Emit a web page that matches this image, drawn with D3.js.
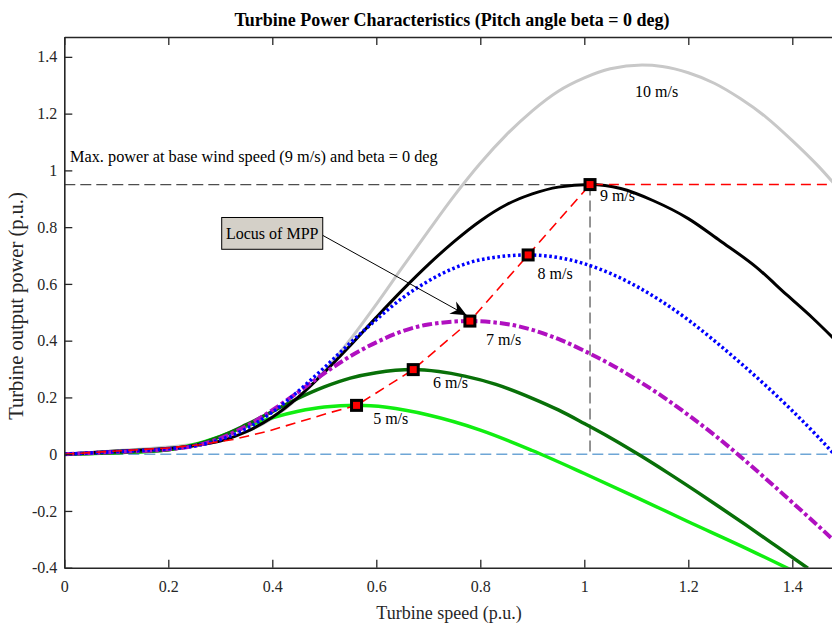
<!DOCTYPE html>
<html>
<head>
<meta charset="utf-8">
<script src="https://cdn.jsdelivr.net/npm/d3@7"></script>
<style>
  body { margin: 0; background: #fff; }
  text { font-family: "Liberation Serif", "Times New Roman", serif; }
</style>
</head>
<body>
<div id="chart"></div>
<script>

// turbine speed (p.u.) / output power (p.u.), one pair per wind speed
var speed_5 = [0, 0.1, 0.2, 0.25, 0.3, 0.35, 0.4, 0.45, 0.5, 0.562, 0.62, 0.7, 0.8, 0.9, 1.0, 1.1, 1.2, 1.3, 1.4];
var power_5 = [0, 0.005, 0.016, 0.034, 0.063, 0.098, 0.128, 0.151, 0.166, 0.172, 0.165, 0.138, 0.085, 0.013, -0.068, -0.152, -0.238, -0.322, -0.41];

var speed_6 = [0, 0.1, 0.2, 0.25, 0.3, 0.35, 0.4, 0.45, 0.5, 0.55, 0.6, 0.671, 0.72, 0.77, 0.83, 0.9, 0.95, 1.0, 1.05, 1.107, 1.16, 1.216, 1.26, 1.312, 1.37, 1.43];
var power_6 = [0, 0.006, 0.016, 0.032, 0.062, 0.104, 0.15, 0.197, 0.237, 0.268, 0.287, 0.298, 0.291, 0.275, 0.246, 0.197, 0.156, 0.108, 0.058, -0.004, -0.065, -0.132, -0.186, -0.251, -0.325, -0.402];

var speed_7 = [0, 0.1, 0.2, 0.25, 0.3, 0.35, 0.4, 0.45, 0.5, 0.55, 0.6, 0.65, 0.7, 0.78, 0.85, 0.9, 0.95, 1.0, 1.05, 1.1, 1.15, 1.2, 1.25, 1.3, 1.35, 1.4, 1.45, 1.5];
var power_7 = [0, 0.008, 0.017, 0.029, 0.056, 0.099, 0.155, 0.219, 0.285, 0.345, 0.394, 0.433, 0.457, 0.469, 0.459, 0.438, 0.406, 0.364, 0.317, 0.263, 0.204, 0.138, 0.068, -0.008, -0.088, -0.17, -0.253, -0.338];

var speed_8 = [0, 0.1, 0.2, 0.25, 0.3, 0.35, 0.4, 0.45, 0.5, 0.55, 0.6, 0.65, 0.7, 0.75, 0.8, 0.892, 0.95, 1.0, 1.05, 1.1, 1.15, 1.2, 1.25, 1.3, 1.35, 1.4, 1.45, 1.5];
var power_8 = [0, 0.009, 0.019, 0.029, 0.051, 0.09, 0.148, 0.222, 0.305, 0.392, 0.474, 0.55, 0.61, 0.656, 0.685, 0.702, 0.693, 0.671, 0.637, 0.592, 0.537, 0.473, 0.4, 0.322, 0.24, 0.153, 0.06, -0.04];

var speed_9 = [0, 0.1, 0.2, 0.25, 0.3, 0.35, 0.4, 0.45, 0.5, 0.55, 0.6, 0.65, 0.7, 0.75, 0.8, 0.85, 0.9, 0.95, 1.011, 1.07, 1.133, 1.2, 1.261, 1.33, 1.389, 1.44, 1.5];
var power_9 = [0, 0.011, 0.021, 0.03, 0.046, 0.079, 0.13, 0.201, 0.288, 0.383, 0.482, 0.578, 0.668, 0.75, 0.822, 0.879, 0.917, 0.941, 0.95, 0.936, 0.893, 0.83, 0.752, 0.66, 0.562, 0.478, 0.37];

var speed_10 = [0, 0.1, 0.2, 0.25, 0.3, 0.35, 0.4, 0.45, 0.5, 0.55, 0.6, 0.65, 0.7, 0.75, 0.8, 0.85, 0.9, 0.95, 1.0, 1.05, 1.111, 1.15, 1.2, 1.25, 1.3, 1.35, 1.4, 1.45, 1.5];
var power_10 = [0, 0.012, 0.025, 0.035, 0.05, 0.079, 0.127, 0.198, 0.292, 0.404, 0.528, 0.658, 0.786, 0.911, 1.025, 1.125, 1.21, 1.279, 1.326, 1.358, 1.371, 1.366, 1.344, 1.307, 1.253, 1.187, 1.105, 1.015, 0.912];

// locus of maximum power points
var locusSpeed = [0, 0.1, 0.2, 0.26, 0.325, 0.39, 0.45, 0.51, 0.562, 0.671, 0.78, 0.892, 1.011, 1.5];
var locusPower = [0, 0.011, 0.022, 0.033, 0.052, 0.08, 0.113, 0.146, 0.172, 0.298, 0.469, 0.702, 0.95, 0.95];

var mppSpeed = [0.562, 0.671, 0.78, 0.892, 1.011];
var mppPower = [0.172, 0.298, 0.469, 0.702, 0.95];

var windLabels = ["5 m/s", "6 m/s", "7 m/s", "8 m/s", "9 m/s", "10 m/s"];

var xTicks = [0, 0.2, 0.4, 0.6, 0.8, 1, 1.2, 1.4];
var yTicks = [-0.4, -0.2, 0, 0.2, 0.4, 0.6, 0.8, 1, 1.2, 1.4];

var basePower = 0.95;
var baseSpeed = 1.011;

function zip(xs, ys) {
  var out = []
  for (var i = 0; i < xs.length; i++) {
    out.push([xs[i], ys[i]])
  }
  return out
}

var svgWidth = 832;
var svgHeight = 627;

var svg = d3.select("#chart")
  .append("svg")
  .attr("width", svgWidth)
  .attr("height", svgHeight)
  .style("background", "#fff");

var plotLeft = 64.3, plotTop = 37, plotBottom = 567.7;

var xScale = d3.scaleLinear().domain([0, 1.5]).range([plotLeft, plotLeft + 780]);
var yScale = d3.scaleLinear().domain([-0.4, 1.47]).range([plotBottom, plotTop]);

var defs = svg.append("defs");
defs.append("clipPath")
  .attr("id", "plotClip")
  .append("rect")
  .attr("x", plotLeft)
  .attr("y", plotTop)
  .attr("width", svgWidth - plotLeft)
  .attr("height", plotBottom - plotTop);

// arrow head for the annotation
defs.append("marker")
  .attr("id", "arrowHead")
  .attr("markerUnits", "userSpaceOnUse")
  .attr("viewBox", "-18 -9 20 18")
  .attr("refX", 0)
  .attr("refY", 0)
  .attr("markerWidth", 20)
  .attr("markerHeight", 18)
  .attr("orient", "auto")
  .append("path")
  .attr("d", "M0,0 L-16,-7 L-11,0 L-16,7 Z")
  .attr("fill", "#000");

var line = d3.line()
  .x(d => xScale(d[0]))
  .y(d => yScale(d[1]))
  .curve(d3.curveMonotoneX);

var straight = d3.line()
  .x(d => xScale(d[0]))
  .y(d => yScale(d[1]));

var plot = svg.append("g").attr("clip-path", "url(#plotClip)");

// reference lines
plot.append("path")
  .attr("d", straight([[0, 0], [1.5, 0]]))
  .attr("fill", "none")
  .attr("stroke", "#6ea6d6")
  .attr("stroke-width", 1.5)
  .attr("stroke-dasharray", "11,5");

plot.append("path")
  .attr("d", straight([[0, basePower], [baseSpeed, basePower]]))
  .attr("fill", "none")
  .attr("stroke", "#4d4d4d")
  .attr("stroke-width", 1.2)
  .attr("stroke-dasharray", "11,5");

plot.append("path")
  .attr("d", straight([[baseSpeed, basePower], [baseSpeed, 0]]))
  .attr("fill", "none")
  .attr("stroke", "#4d4d4d")
  .attr("stroke-width", 1.2)
  .attr("stroke-dasharray", "11,5");

var curves = [
  {data: zip(speed_10, power_10), color: "#c8c8c8", width: 3, dash: null},
  {data: zip(speed_5, power_5), color: "#11ee11", width: 3.5, dash: null},
  {data: zip(speed_6, power_6), color: "#087008", width: 3.5, dash: null},
  {data: zip(speed_9, power_9), color: "#000000", width: 3, dash: null},
  {data: zip(speed_7, power_7), color: "#b010c0", width: 4, dash: "10,3,3.5,3"},
  {data: zip(speed_8, power_8), color: "#0000ff", width: 3.5, dash: "2.6,2.6"}
];

plot.selectAll(".curve")
  .data(curves)
  .enter()
  .append("path")
  .attr("class", "curve")
  .attr("d", d => line(d.data))
  .attr("fill", "none")
  .attr("stroke", d => d.color)
  .attr("stroke-width", d => d.width)
  .attr("stroke-dasharray", d => d.dash);

// locus of MPP
plot.append("path")
  .attr("d", straight(zip(locusSpeed, locusPower)))
  .attr("fill", "none")
  .attr("stroke", "#ff0000")
  .attr("stroke-width", 1.6)
  .attr("stroke-dasharray", "10,6");

plot.selectAll(".mpp")
  .data(zip(mppSpeed, mppPower))
  .enter()
  .append("rect")
  .attr("class", "mpp")
  .attr("x", d => xScale(d[0]) - 5)
  .attr("y", d => yScale(d[1]) - 5)
  .attr("width", 10)
  .attr("height", 10)
  .attr("fill", "#ff0000")
  .attr("stroke", "#000")
  .attr("stroke-width", 3);

// axes
var bottomAxis = d3.axisBottom(xScale).tickValues(xTicks).tickSizeInner(-8).tickSizeOuter(0).tickPadding(13)
  .tickFormat(d => String(d));
var topAxis = d3.axisTop(xScale).tickValues(xTicks).tickSizeInner(-8).tickSizeOuter(0).tickFormat("");
var leftAxis = d3.axisLeft(yScale).tickValues(yTicks).tickSizeInner(-8).tickSizeOuter(0).tickPadding(7)
  .tickFormat(d => String(+d.toFixed(1)));

var gx = svg.append("g").attr("transform", `translate(0, ${plotBottom})`).call(bottomAxis);
var gt = svg.append("g").attr("transform", `translate(0, ${plotTop})`).call(topAxis);
var gy = svg.append("g").attr("transform", `translate(${plotLeft}, 0)`).call(leftAxis);

[gx, gt, gy].forEach(function(g) {
  g.select(".domain").attr("stroke", "#262626").attr("stroke-width", 1.6);
  g.selectAll(".tick line").attr("stroke", "#262626").attr("stroke-width", 1.3);
  g.selectAll(".tick text")
    .attr("fill", "#262626")
    .style("font-size", "16px")
    .style("font-family", "'Liberation Serif', 'Times New Roman', serif");
});

// title and axis labels
svg.append("text")
  .attr("x", 452)
  .attr("y", 26)
  .attr("text-anchor", "middle")
  .style("font-size", "18px")
  .style("font-weight", "bold")
  .text("Turbine Power Characteristics (Pitch angle beta = 0 deg)");

svg.append("text")
  .attr("x", 449)
  .attr("y", 619)
  .attr("text-anchor", "middle")
  .attr("fill", "#262626")
  .style("font-size", "18px")
  .text("Turbine speed (p.u.)");

svg.append("text")
  .attr("transform", "rotate(-90)")
  .attr("x", -306)
  .attr("y", 23)
  .attr("text-anchor", "middle")
  .attr("fill", "#262626")
  .style("font-size", "20.5px")
  .text("Turbine output power (p.u.)");

svg.append("text")
  .attr("x", xScale(0.011))
  .attr("y", yScale(1.03))
  .style("font-size", "16.3px")
  .text("Max. power at base wind speed (9 m/s) and beta = 0 deg");

// wind speed labels
var labelPos = [[0.594, 0.108], [0.709, 0.232], [0.811, 0.383], [0.91, 0.616], [1.03, 0.891], [1.0975, 1.258]];
svg.selectAll(".windLabel")
  .data(windLabels)
  .enter()
  .append("text")
  .attr("class", "windLabel")
  .attr("x", (d, i) => xScale(labelPos[i][0]))
  .attr("y", (d, i) => yScale(labelPos[i][1]))
  .style("font-size", "16px")
  .text(d => d);

// "Locus of MPP" callout
var boxX = xScale(0.3027), boxY = yScale(0.834);
var boxW = xScale(0.497) - boxX, boxH = yScale(0.722) - boxY;
svg.append("line")
  .attr("x1", xScale(0.497))
  .attr("y1", yScale(0.771))
  .attr("x2", xScale(0.7738))
  .attr("y2", yScale(0.4894))
  .attr("stroke", "#000")
  .attr("stroke-width", 1)
  .attr("marker-end", "url(#arrowHead)");

svg.append("rect")
  .attr("x", boxX)
  .attr("y", boxY)
  .attr("width", boxW)
  .attr("height", boxH)
  .attr("fill", "#d4d0c8")
  .attr("stroke", "#000")
  .attr("stroke-width", 1);

svg.append("text")
  .attr("x", boxX + boxW / 2)
  .attr("y", boxY + boxH / 2 + 5.5)
  .attr("text-anchor", "middle")
  .style("font-size", "16px")
  .text("Locus of MPP");

</script>
</body>
</html>
